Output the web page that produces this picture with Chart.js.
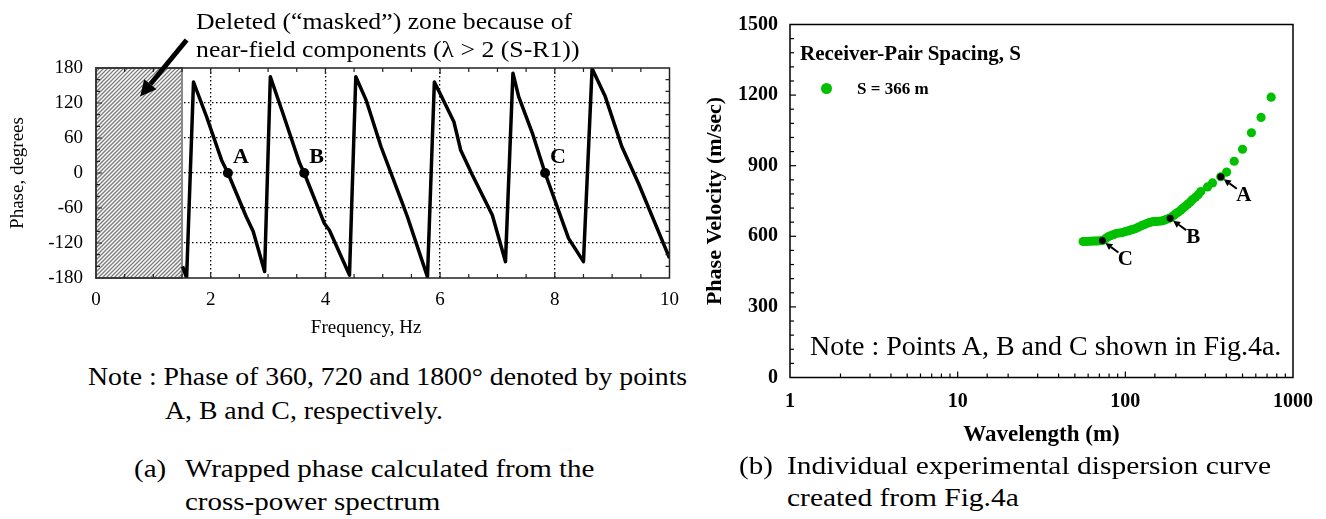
<!DOCTYPE html>
<html>
<head>
<meta charset="utf-8">
<script src="https://cdn.jsdelivr.net/npm/chart.js@4"></script>
<style>
  body { margin: 0; background: #fff; }
  #wrap { position: relative; width: 1326px; height: 519px; overflow: hidden;
          font-family: "Liberation Serif", "Times New Roman", serif; color: #000; }
  canvas { position: absolute; top: 0; }
  .t { position: absolute; white-space: nowrap; line-height: 1; transform-origin: 0 50%; }
  .b { font-weight: bold; }
  .dot { position: absolute; width: 11px; height: 11px; border-radius: 50%; background: rgb(0,192,0); }
</style>
</head>
<body>
<div id="wrap">
  <canvas id="phaseChart" width="690" height="340" style="left:0"></canvas>
  <canvas id="dispChart" width="636" height="460" style="left:690px"></canvas>

  <div class="t" style="left:196px; top:9.5px; font-size:23px; transform:scaleX(1.12)">Deleted (“masked”) zone because of</div>
  <div class="t" style="left:196px; top:37.5px; font-size:23px; transform:scaleX(1.12)">near-field components (λ &gt; 2 (S-R1))</div>

  <div class="t" style="left:88px; top:364px; font-size:25px; transform:scaleX(1.11)">Note : Phase of 360, 720 and 1800° denoted by points</div>
  <div class="t" style="left:165px; top:397.5px; font-size:25px; transform:scaleX(1.11)">A, B and C, respectively.</div>

  <div class="t" style="left:134px; top:455.5px; font-size:25px; transform:scaleX(1.16)">(a)</div>
  <div class="t" style="left:185px; top:455.5px; font-size:25px; transform:scaleX(1.16)">Wrapped phase calculated from the</div>
  <div class="t" style="left:185px; top:488.5px; font-size:25px; transform:scaleX(1.16)">cross-power spectrum</div>

  <div class="t" style="left:739px; top:452.5px; font-size:25px; transform:scaleX(1.16)">(b)</div>
  <div class="t" style="left:787px; top:452.5px; font-size:25px; transform:scaleX(1.18)">Individual experimental dispersion curve</div>
  <div class="t" style="left:787px; top:484.5px; font-size:25px; transform:scaleX(1.18)">created from Fig.4a</div>

  <div class="t b" style="left:800px; top:42.5px; font-size:21px">Receiver-Pair Spacing, S</div>
  <div class="dot" style="left:820.5px; top:82.5px"></div>
  <div class="t b" style="left:857px; top:80px; font-size:17px">S = 366 m</div>
  <div class="t" style="left:810px; top:331.5px; font-size:28px">Note : Points A, B and C shown in Fig.4a.</div>
</div>

<script>
// (a) wrapped phase vs frequency
var freq  = [1.51, 1.58, 1.70, 1.93, 2.19, 2.30, 2.62, 2.74, 2.94, 3.04, 3.26, 3.55, 3.63, 3.98,
             4.07, 4.42, 4.53, 4.71, 4.97, 5.32, 5.43, 5.78, 5.90, 6.01, 6.24, 6.36, 6.56, 6.91,
             7.14, 7.27, 7.37, 7.61, 7.83, 8.24, 8.50, 8.65, 8.88, 9.17, 9.46, 10.0];
var phase = [-160, -180, 156, 96, 22, 0, -75, -100, -169, 165, 102, 17, 0, -86,
             -98, -175, 165, 125, 45, -46, -75, -178, 156, 134, 88, 39, -3, -72,
             -152, 171, 131, 68, 0, -112, -152, 179, 131, 45, -18, -146];
var pointNames = ['A', 'B', 'C'];
var markFreq  = [2.30, 3.63, 7.83];
var markPhase = [0, 0, 0];
var maskedZone = [0, 1.5];   // Hz

// (b) dispersion curve, S = 366 m
var wavelength = [56, 58, 60, 62, 64, 66, 68, 70, 73, 76, 79, 82, 85, 88, 92, 96, 100, 104, 108, 112,
                  116, 120, 125, 130, 135, 140, 146, 152, 158, 164, 170, 176, 182, 188, 194, 200, 207,
                  214, 221, 228, 236, 244, 252, 262, 272, 282, 309, 331, 371, 402, 446, 500, 565, 645, 741];
var velocity   = [578, 578, 579, 579, 580, 580, 580, 581, 582, 590, 598, 603, 607, 612, 614, 616, 620, 623, 627, 630,
                  634, 639, 645, 650, 655, 659, 662, 663, 664, 665, 668, 672, 676, 681, 688, 696, 703,
                  711, 720, 728, 737, 746, 756, 766, 777, 790, 810, 827, 853, 873, 919, 970, 1040, 1105, 1191];
var markWavelength = [371, 185, 73];
var markVelocity   = [853, 677, 582];

var phaseTicks = [-180, -120, -60, 0, 60, 120, 180];
var velocityTicks = [0, 300, 600, 900, 1200, 1500];

var SERIF = "'Liberation Serif', 'Times New Roman', serif";
var GREEN = 'rgb(0,192,0)';
Chart.defaults.font.family = SERIF;
Chart.defaults.color = '#000';

function arrow(ctx, x0, y0, x1, y1, w, head) {
  var ang = Math.atan2(y1 - y0, x1 - x0);
  var bx = x1 - head * Math.cos(ang), by = y1 - head * Math.sin(ang);
  var hw = head * 0.5;
  ctx.save();
  ctx.strokeStyle = '#000'; ctx.fillStyle = '#000'; ctx.lineWidth = w;
  ctx.beginPath(); ctx.moveTo(x0, y0); ctx.lineTo(bx, by); ctx.stroke();
  ctx.beginPath(); ctx.moveTo(x1, y1);
  ctx.lineTo(bx + hw * Math.sin(ang), by - hw * Math.cos(ang));
  ctx.lineTo(bx - hw * Math.sin(ang), by + hw * Math.cos(ang));
  ctx.closePath(); ctx.fill();
  ctx.restore();
}

var phaseDecor = {
  id: 'phaseDecor',
  beforeDatasetsDraw: function (chart) {
    var ctx = chart.ctx, a = chart.chartArea, x = chart.scales.x;
    var x0 = x.getPixelForValue(maskedZone[0]), x1 = x.getPixelForValue(maskedZone[1]);
    var h = a.bottom - a.top;
    ctx.save();
    ctx.beginPath(); ctx.rect(x0, a.top, x1 - x0, h);
    ctx.fillStyle = '#fff'; ctx.fill(); ctx.clip();
    ctx.strokeStyle = '#7d7d7d'; ctx.lineWidth = 1.3;
    for (var k = -h; k < x1 - x0; k += 4) {
      ctx.beginPath(); ctx.moveTo(x0 + k, a.bottom); ctx.lineTo(x0 + k + h, a.top); ctx.stroke();
    }
    ctx.restore();
    ctx.save();
    ctx.strokeStyle = '#8a8a8a'; ctx.lineWidth = 2;
    ctx.strokeRect(x0, a.top, x1 - x0, h);
    ctx.restore();
  },
  afterDraw: function (chart) {
    var ctx = chart.ctx, a = chart.chartArea, x = chart.scales.x, y = chart.scales.y;
    ctx.save();
    ctx.strokeStyle = '#222'; ctx.lineWidth = 1.5;
    ctx.strokeRect(a.left, a.top, a.right - a.left, a.bottom - a.top);
    ctx.lineWidth = 1.2;
    for (var f = 0.5; f < 10; f += 0.5) {
      var px = x.getPixelForValue(f), len = (f % 2 === 0) ? 6 : 4;
      ctx.beginPath();
      ctx.moveTo(px, a.bottom); ctx.lineTo(px, a.bottom - len);
      ctx.moveTo(px, a.top); ctx.lineTo(px, a.top + len);
      ctx.stroke();
    }
    for (var p = -160; p < 180; p += 20) {
      var py = y.getPixelForValue(p), l2 = (p % 60 === 0) ? 6 : 4;
      ctx.beginPath();
      ctx.moveTo(a.left, py); ctx.lineTo(a.left + l2, py);
      ctx.moveTo(a.right, py); ctx.lineTo(a.right - l2, py);
      ctx.stroke();
    }
    ctx.font = 'bold 22px ' + SERIF;
    ctx.fillStyle = '#000'; ctx.textAlign = 'left'; ctx.textBaseline = 'middle';
    for (var i = 0; i < pointNames.length; i++) {
      ctx.fillText(pointNames[i], x.getPixelForValue(markFreq[i]) + 5, y.getPixelForValue(markPhase[i]) - 16);
    }
    ctx.restore();
    // arrow pointing into the masked zone
    arrow(ctx, x.getPixelForValue(1.58), y.getPixelForValue(228),
               x.getPixelForValue(0.77), y.getPixelForValue(131), 5, 16);
  }
};

new Chart(document.getElementById('phaseChart'), {
  type: 'scatter',
  data: {
    datasets: [
      { data: markFreq.map(function (f, i) { return { x: f, y: markPhase[i] }; }),
        backgroundColor: '#000', borderWidth: 0, pointRadius: 5, order: 0 },
      { data: freq.map(function (f, i) { return { x: f, y: phase[i] }; }),
        showLine: true, borderColor: '#000', borderWidth: 3.5, pointRadius: 0,
        borderJoinStyle: 'round', order: 1 }
    ]
  },
  options: {
    responsive: false, animation: false, events: [],
    layout: { padding: { left: 0, top: 68, right: 19, bottom: 0 } },
    plugins: { legend: { display: false }, tooltip: { enabled: false } },
    scales: {
      x: {
        min: 0, max: 10,
        afterFit: function (s) { s.height = 62; },
        ticks: { stepSize: 2, padding: 11, maxRotation: 0, font: { size: 19 } },
        grid: { drawTicks: false, lineWidth: 1.3,
                color: function (c) { return (c.tick && (c.tick.value === 0 || c.tick.value === 10)) ? 'rgba(0,0,0,0)' : '#000'; } },
        border: { display: false, dash: [1.5, 2.5] },
        title: { display: true, text: 'Frequency, Hz\u00a0\u00a0\u00a0\u00a0\u00a0\u00a0\u00a0', font: { size: 19 }, padding: { bottom: 1 } }
      },
      y: {
        min: -180, max: 180,
        afterFit: function (s) { s.width = 96; },
        afterBuildTicks: function (s) { s.ticks = phaseTicks.map(function (v) { return { value: v }; }); },
        ticks: { padding: 13, font: { size: 19 } },
        grid: { drawTicks: false, lineWidth: 1.3,
                color: function (c) { return (c.tick && (c.tick.value === -180 || c.tick.value === 180)) ? 'rgba(0,0,0,0)' : '#000'; } },
        border: { display: false, dash: [1.5, 2.5] },
        title: { display: true, text: 'Phase, degrees', font: { size: 19 }, padding: { top: 7 } }
      }
    }
  },
  plugins: [phaseDecor]
});

var dispDecor = {
  id: 'dispDecor',
  afterDraw: function (chart) {
    var ctx = chart.ctx, a = chart.chartArea, x = chart.scales.x, y = chart.scales.y;
    ctx.save();
    ctx.strokeStyle = '#000'; ctx.lineWidth = 1.5;
    ctx.strokeRect(a.left, a.top, a.right - a.left, a.bottom - a.top);
    ctx.lineWidth = 1.2;
    for (var v = 60; v < 1500; v += 60) {
      var py = y.getPixelForValue(v), len = (v % 300 === 0) ? 6 : 4;
      ctx.beginPath(); ctx.moveTo(a.left, py); ctx.lineTo(a.left + len, py); ctx.stroke();
    }
    x.ticks.forEach(function (t) {
      var px = x.getPixelForValue(t.value);
      if (px <= a.left + 1 || px >= a.right - 1) return;
      var l = Math.abs(Math.log10(t.value) - Math.round(Math.log10(t.value))) < 1e-9 ? 6 : 4;
      ctx.beginPath(); ctx.moveTo(px, a.bottom); ctx.lineTo(px, a.bottom - l); ctx.stroke();
    });
    ctx.restore();
    ctx.save();
    ctx.font = 'bold 21px ' + SERIF;
    ctx.fillStyle = '#000'; ctx.textAlign = 'center'; ctx.textBaseline = 'middle';
    for (var i = 0; i < pointNames.length; i++) {
      var mx = x.getPixelForValue(markWavelength[i]), my = y.getPixelForValue(markVelocity[i]);
      arrow(ctx, mx + 16, my + 12, mx + 3, my + 2.5, 2, 7);
      ctx.fillText(pointNames[i], mx + 23, my + 19);
    }
    ctx.restore();
  }
};

new Chart(document.getElementById('dispChart'), {
  type: 'scatter',
  data: {
    datasets: [
      { label: 'A, B, C', data: markWavelength.map(function (w, i) { return { x: w, y: markVelocity[i] }; }),
        backgroundColor: '#000', borderWidth: 0, pointRadius: 3.5, order: 0 },
      { label: 'S = 366 m', data: wavelength.map(function (w, i) { return { x: w, y: velocity[i] }; }),
        backgroundColor: GREEN, borderWidth: 0, pointRadius: 4.6, order: 1 }
    ]
  },
  options: {
    responsive: false, animation: false, events: [],
    layout: { padding: { left: 0, top: 24.5, right: 33, bottom: 0 } },
    plugins: { legend: { display: false }, tooltip: { enabled: false } },
    scales: {
      x: {
        type: 'logarithmic', min: 1, max: 1000,
        afterFit: function (s) { s.height = 82.5; },
        ticks: { autoSkip: false, maxRotation: 0, padding: 12, font: { size: 20, weight: 'bold' },
                 callback: function (v) {
                   var l = Math.log10(v);
                   return Math.abs(l - Math.round(l)) < 1e-9 ? String(v) : '';
                 } },
        grid: { drawOnChartArea: false, drawTicks: false },
        border: { display: false },
        title: { display: true, text: 'Wavelength (m)', font: { size: 23, weight: 'bold' }, padding: { bottom: 11 } }
      },
      y: {
        min: 0, max: 1500,
        afterFit: function (s) { s.width = 100; },
        afterBuildTicks: function (s) { s.ticks = velocityTicks.map(function (v) { return { value: v }; }); },
        ticks: { padding: 12, font: { size: 20, weight: 'bold' }, callback: function (v) { return String(v); } },
        grid: { drawOnChartArea: false, drawTicks: false },
        border: { display: false },
        title: { display: true, text: 'Phase Velocity (m/sec)', font: { size: 22, weight: 'bold' }, padding: { top: 12 } }
      }
    }
  },
  plugins: [dispDecor]
});
</script>
</body>
</html>
